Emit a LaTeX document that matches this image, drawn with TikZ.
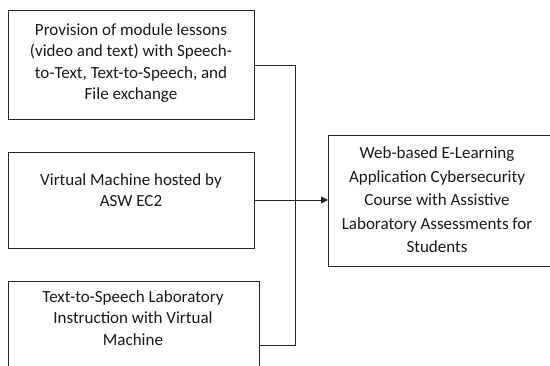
\documentclass[tikz,border=0pt]{standalone}
\usepackage{fontspec}
\setmainfont{Carlito}
\usetikzlibrary{arrows.meta}
\tikzset{
  frame/.style={draw=black!85, line width=0.8pt, rectangle, inner sep=0pt},
  caption/.style={align=center, inner sep=0pt, font=\fontsize{17}{21.2}\selectfont, text=black!90},
  wire/.style={draw=black!85, line width=0.8pt},
}
\begin{document}
\begin{tikzpicture}[x=1pt, y=-1pt]
  \useasboundingbox (0,0) rectangle (550,365);
  \clip (0,0) rectangle (550,365);

  % input boxes
  \node[frame, anchor=north west, minimum width=246, minimum height=109] (b1) at (8,10) {};
  \node[caption] (t1) at (131,63) {Provision of module lessons\\(video and text) with Speech-\\to-Text, Text-to-Speech, and\\File exchange};

  \node[frame, anchor=north west, minimum width=246, minimum height=96] (b2) at (8,152) {};
  \node[caption] (t2) at (131,190) {Virtual Machine hosted by\\ASW EC2};

  \node[frame, anchor=north west, minimum width=251, minimum height=110] (b3) at (8,281) {};
  \node[caption] (t3) at (133,318) {Text-to-Speech Laboratory\\Instruction with Virtual\\Machine};

  % output box
  \node[frame, anchor=north west, minimum width=240, minimum height=131] (b4) at (328,135) {};
  \node[caption, font=\fontsize{17}{23.5}\selectfont] (t4) at (437,200) {Web-based E-Learning\\Application Cybersecurity\\Course with Assistive\\Laboratory Assessments for\\Students};

  % collecting bus
  \coordinate (j1) at (295,65);
  \coordinate (j2) at (295,200);
  \coordinate (j3) at (295,345);

  \draw[wire] (b1.east |- j1) -- (j1) -- (j3) -- (b3.east |- j3);
  \draw[wire] (b2.east |- j2) -- (j2);
  \draw[wire, -{Triangle[length=7pt, width=7pt]}] (j2) -- (b4.west |- j2);
\end{tikzpicture}
\end{document}
